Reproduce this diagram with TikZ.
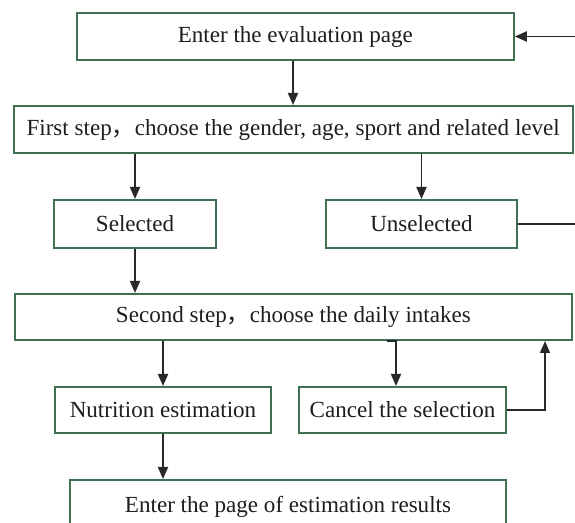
\documentclass[tikz,border=0pt]{standalone}
\usepackage{fontspec}
\setmainfont{Liberation Serif}
\newfontfamily\cjk{Noto Sans CJK SC}
\usetikzlibrary{arrows.meta}
\definecolor{boxgreen}{RGB}{62,112,82}
\definecolor{linegray}{RGB}{40,40,40}
\definecolor{txt}{RGB}{30,30,30}
\tikzset{
  flowbox/.style={draw=boxgreen, line width=1.5pt, fill=white, inner sep=0pt,
    text=txt, font=\fontsize{17.3}{20}\selectfont},
  conn/.style={draw=linegray, line width=1.35pt},
  arr/.style={conn, -{Triangle[length=9pt,width=7.5pt]}}
}
\begin{document}
\begin{tikzpicture}[x=0.75pt,y=-0.75pt]
\clip (0,0) rectangle (575,523);
\fill[white] (0,0) rectangle (575,523);
% boxes
\node[flowbox, minimum width=437pt*0.75, minimum height=47pt*0.75] (b1) at (295.3,36.5) {Enter the evaluation page};
\node[flowbox, minimum width=559pt*0.75, minimum height=47pt*0.75] (b2) at (293.2,129.5) {First step{\cjk ，}choose the gender, age, sport and related level};
\node[flowbox, minimum width=162pt*0.75, minimum height=48pt*0.75] (sel) at (135,224) {Selected};
\node[flowbox, minimum width=191pt*0.75, minimum height=48pt*0.75] (unsel) at (421.5,224) {Unselected};
\node[flowbox, minimum width=557pt*0.75, minimum height=46pt*0.75] (b3) at (293.4,317) {Second step{\cjk ，}choose the daily intakes};
\node[flowbox, minimum width=216pt*0.75, minimum height=46pt*0.75] (nut) at (163,410) {Nutrition estimation};
\node[flowbox, minimum width=207pt*0.75, minimum height=46pt*0.75] (can) at (402.5,410) {Cancel the selection};
\node[flowbox, minimum width=436pt*0.75, minimum height=48pt*0.75, text depth=0pt] (fin) at (288,504) {Enter the page of estimation results};
% helper coordinates
\coordinate (x1) at (293,0);
\coordinate (xc) at (396,0);
\coordinate (xj) at (387,0);
\coordinate (xr) at (545,0);
\coordinate (r1) at (576,36.5);
\coordinate (r2) at (576,224);
% connectors
\draw[arr] (b1.south -| x1) -- (b2.north -| x1);
\draw[arr] (r1) -- (b1.east);
\draw[arr] (b2.south -| sel.north) -- (sel.north);
\draw[arr] (b2.south -| unsel.north) -- (unsel.north);
\draw[conn] (unsel.east) -- (r2);
\draw[arr] (sel.south) -- (b3.north -| sel.south);
\draw[arr] (b3.south -| nut.north) -- (nut.north);
\draw[arr] (b3.south -| xj) -- (b3.south -| xc) -- (can.north -| xc);
\draw[arr] (can.east) -| (b3.south -| xr);
\draw[arr] (nut.south) -- (fin.north -| nut.south);
\end{tikzpicture}
\end{document}
